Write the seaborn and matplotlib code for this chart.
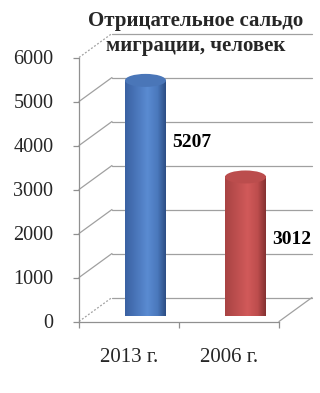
import numpy as np
import pandas as pd
import matplotlib
matplotlib.use("Agg")
import matplotlib.pyplot as plt
import seaborn as sns
from matplotlib.patches import Ellipse, PathPatch
from matplotlib.path import Path
from matplotlib.colors import LinearSegmentedColormap

# ---- data ----
categories = ["2013 г.", "2006 г."]
values = [5207, 3012]
yticks = [0, 1000, 2000, 3000, 4000, 5000, 6000]
title_lines = ["Отрицательное сальдо", "миграции, человек"]

# ---- styles ----
body_stops = [
    ["#3a61a2", "#5a8bd2", "#4a78bc", "#2c4e84"],
    ["#a84343", "#d15a5a", "#bd4d4d", "#843131"],
]
top_colors = ["#4a76b8", "#bb4d4d"]
grid_col = "#a0a0a0"

sns.set_theme(style="white")
plt.rcParams['font.family'] = ['Liberation Serif', 'DejaVu Serif']

W, H = 320, 393
fig = plt.figure(figsize=(W / 100, H / 100), dpi=100)
fig.patch.set_facecolor("white")

ax_l, ax_r, ax_b, ax_t = 79, 279, 321.5, 57.5
rect = [ax_l / W, (H - ax_b) / H, (ax_r - ax_l) / W, (ax_b - ax_t) / H]
ax = fig.add_axes(rect)
mid_dx, mid_dy = 16.5, 12.0
ax2 = fig.add_axes([(ax_l + mid_dx) / W, (H - ax_b + mid_dy) / H, rect[2], rect[3]])

ymax = yticks[-1]
px_per_unit_y = (ax_b - ax_t) / ymax
px_per_unit_x = (ax_r - ax_l) / 2.0
back_dx = 33 / px_per_unit_x
back_dy = 24 / px_per_unit_y

for a in (ax, ax2):
    a.set_xlim(-0.5, 1.5)
    a.set_ylim(0, ymax)
    a.patch.set_alpha(0)

# ---- walls ----
for k in yticks:
    ls = (0, (1.5, 1.5)) if k in (yticks[0], yticks[-1]) else "-"
    ax.plot([-0.5, -0.5 + back_dx], [k, k + back_dy], color=grid_col, lw=0.9,
            ls=ls, clip_on=False, zorder=1)
    ax.plot([-0.5 + back_dx, 1.5 + back_dx], [k + back_dy, k + back_dy],
            color=grid_col, lw=0.9, clip_on=False, zorder=1)
ax.plot([1.5, 1.5 + back_dx], [0, back_dy], color=grid_col, lw=0.9,
        clip_on=False, zorder=1)

for s in ("top", "right"):
    ax.spines[s].set_visible(False)
for s in ("left", "bottom"):
    ax.spines[s].set_color("#909090")
    ax.spines[s].set_linewidth(0.9)

ax.set_yticks(yticks)
ax.set_yticklabels([str(t) for t in yticks], fontsize=14.5)
ax.tick_params(axis="y", length=4.5, width=0.9, color="#909090", pad=14,
               direction="out", left=True)
ax.set_xticks([-0.5, 0.5, 1.5])
ax.set_xticklabels(["", "", ""])
ax.set_xticks([0, 1], minor=True)
ax.set_xticklabels(categories, minor=True, fontsize=15)
ax.tick_params(axis="x", which="major", length=4.5, width=0.9, color="#909090",
               direction="out", bottom=True)
ax.tick_params(axis="x", which="minor", length=0, pad=19)
ax.set_xlabel("")
ax.set_ylabel("")

# ---- bars (cylinders) on mid-depth plane ----
df = pd.DataFrame({"cat": categories, "val": values})
sns.barplot(data=df, x="cat", y="val", ax=ax2, width=0.41, color="#4f81bd",
            saturation=1)
ax2.set_axis_off()

eh = 13 / px_per_unit_y
bars = list(ax2.patches)
for i, p in enumerate(bars):
    x0, w, h = p.get_x(), p.get_width(), p.get_height()
    xc = x0 + w / 2
    p.set_visible(False)
    t = np.linspace(0, np.pi, 40)
    arc_x = xc + (w / 2) * np.cos(t)
    arc_y = -(eh / 2) * np.sin(t)
    verts = [(x0, h), (x0 + w, h)] + list(zip(arc_x, arc_y)) + [(x0, h)]
    codes = [Path.MOVETO] + [Path.LINETO] * (len(verts) - 2) + [Path.CLOSEPOLY]
    clip = PathPatch(Path(verts, codes), transform=ax2.transData,
                     facecolor="none", edgecolor="none")
    ax2.add_patch(clip)
    cmap = LinearSegmentedColormap.from_list(
        f"c{i}", list(zip([0, 0.55, 0.8, 1.0], body_stops[i])))
    grad = np.linspace(0, 1, 200).reshape(1, -1)
    im = ax2.imshow(grad, cmap=cmap, aspect="auto",
                    extent=[x0, x0 + w, -eh / 2, h], zorder=3, clip_on=False)
    im.set_clip_path(clip)
    ax2.add_patch(Ellipse((xc, h), w, eh, facecolor=top_colors[i],
                          edgecolor="none", zorder=4, clip_on=False))
    ax2.text(xc + 0.465, h - 1420, f"{values[i]}", ha="center", va="center",
             fontsize=14, fontweight="bold", color="black", zorder=5)

ax2.set_xlim(-0.5, 1.5)
ax2.set_ylim(0, ymax)

# ---- title ----
fig.text(196 / W, 1 - 21 / H, title_lines[0], ha="center", va="center",
         fontsize=15, fontweight="bold")
fig.text(196 / W, 1 - 46 / H, title_lines[1], ha="center", va="center",
         fontsize=15, fontweight="bold")

fig.savefig("out.png", dpi=100)
